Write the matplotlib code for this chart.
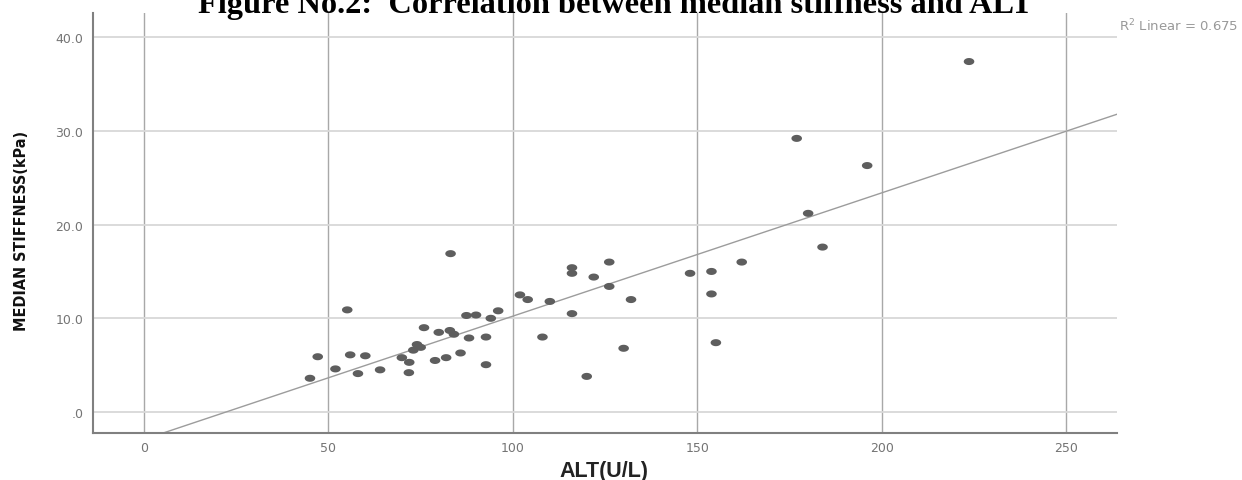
import numpy as np
from matplotlib import pyplot as plt
from matplotlib.path import Path
from matplotlib import rcParams

rcParams["font.family"] = ["DejaVu Sans"]

# ALT(U/L) vs median stiffness (kPa)
alt = [45.0, 47.1, 51.9, 55.1, 55.9, 58.0, 60.0, 64.0, 69.9, 71.9,
       71.8, 73.0, 74.0, 75.0, 75.9, 78.9, 79.9, 81.9, 82.9, 84.0,
       85.8, 88.1, 87.4, 90.0, 92.7, 92.7, 94.0, 96.0, 83.1, 101.9,
       104.0, 110.0, 116.0, 116.0, 116.0, 121.9, 126.1, 126.1, 132.0, 108.0,
       130.0, 120.0, 176.9, 196.0, 180.0, 183.9, 162.0, 148.0, 153.8, 153.8,
       155.0, 223.6]
stiffness = [3.6, 5.9, 4.6, 10.9, 6.1, 4.1, 6.0, 4.5, 5.8, 5.3,
             4.2, 6.6, 7.2, 6.9, 9.0, 5.5, 8.5, 5.8, 8.7, 8.3,
             6.3, 7.9, 10.3, 10.35, 8.0, 5.05, 10.0, 10.8, 16.9, 12.5,
             12.0, 11.8, 15.4, 14.8, 10.5, 14.4, 16.0, 13.4, 12.0, 8.0,
             6.8, 3.8, 29.2, 26.3, 21.2, 17.6, 16.0, 14.8, 15.0, 12.6,
             7.4, 37.4]

x_ticks = [0, 50, 100, 150, 200, 250]
x_ticklabels = ["0", "50", "100", "150", "200", "250"]
y_ticks = [0, 10, 20, 30, 40]
y_ticklabels = [".0", "10.0", "20.0", "30.0", "40.0"]

title = "Figure No.2:  Correlation between median stiffness and ALT"
r2_text = "R$^2$ Linear = 0.675"

x_range = [-13.8, 263.7]
y_range = [-2.24, 42.58]

W, H = 1242, 481
fig = plt.figure(figsize=(W / 100, H / 100), dpi=100)
ax = fig.add_axes([93 / W, 1 - 434 / H, (1117 - 93) / W, (434 - 14) / H])

ax.set_xlim(*x_range)
ax.set_ylim(*y_range)

# grid: SPSS style, vertical darker than horizontal
for xv in x_ticks:
    ax.axvline(xv, color="#a8a8a8", lw=1.0, zorder=1)
for yv in y_ticks:
    ax.axhline(yv, color="#d8d8d8", lw=1.3, zorder=1)

# fit line
slope, intercept = np.polyfit(alt, stiffness, 1)
xs = np.array(x_range)
ax.plot(xs, slope * xs + intercept, color="#9c9c9c", lw=1.0, zorder=2)

# horizontally stretched dots
t = np.linspace(0, 2 * np.pi, 40)
ellipse = Path(np.column_stack([1.5 * np.cos(t), np.sin(t)]))
ax.scatter(alt, stiffness, marker=ellipse, s=58, color="#5e5e5e",
           edgecolors="none", zorder=3)

ax.set_xticks(x_ticks)
ax.set_xticklabels(x_ticklabels)
ax.set_yticks(y_ticks)
ax.set_yticklabels(y_ticklabels)
ax.tick_params(axis="both", length=0, labelsize=9, labelcolor="#747474")
ax.tick_params(axis="y", pad=7)
ax.tick_params(axis="x", pad=6)

for side in ["top", "right"]:
    ax.spines[side].set_visible(False)
for side in ["left", "bottom"]:
    ax.spines[side].set_color("#808080")
    ax.spines[side].set_linewidth(1.5)

fig.text(22 / W, 1 - 231 / H, "MEDIAN STIFFNESS(kPa)", rotation=90,
         ha="center", va="center", fontsize=11.5, fontweight="bold",
         fontstretch="condensed", family=["DejaVu Sans"], color="#111111")
fig.text(604 / W, 1 - 477 / H, "ALT(U/L)", ha="center", va="baseline",
         fontsize=15.5, fontweight="bold", family=["Liberation Sans", "DejaVu Sans"],
         color="#222222")

fig.text(615 / W, 1 - 13 / H, title, ha="center", va="baseline",
         fontsize=23.3, fontweight="bold", family=["Liberation Serif", "DejaVu Serif"])

fig.text(1119 / W, 1 - 26 / H, r2_text, ha="left", va="center",
         fontsize=9.5, color="#999999")

fig.savefig("out.png", dpi=100)
